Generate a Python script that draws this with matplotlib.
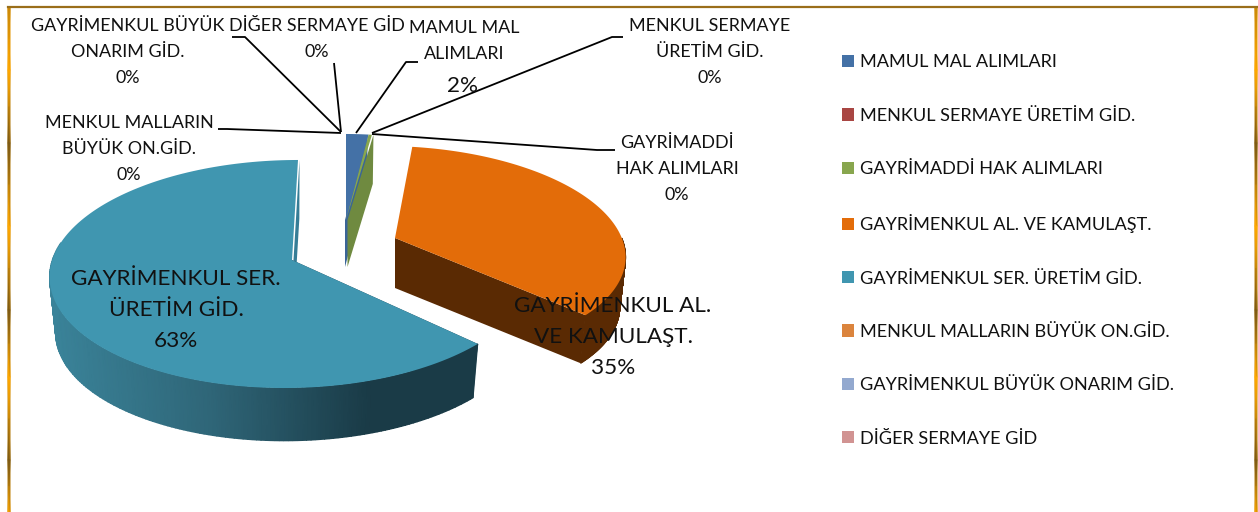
"""Exploded 3D-look pie of investment spending, drawn by hand in pixel space."""
import numpy as np
import matplotlib
matplotlib.use("Agg")
import matplotlib.pyplot as plt
from matplotlib.colors import LinearSegmentedColormap
from matplotlib.patches import Patch

plt.rcParams["font.family"] = ["Lato", "DejaVu Sans"]

CATEGORIES = ["MAMUL MAL ALIMLARI", "MENKUL SERMAYE ÜRETİM GİD.", "GAYRİMADDİ HAK ALIMLARI",
              "GAYRİMENKUL AL. VE KAMULAŞT.", "GAYRİMENKUL SER. ÜRETİM GİD.",
              "MENKUL MALLARIN BÜYÜK ON.GİD.", "GAYRİMENKUL BÜYÜK ONARIM GİD.", "DİĞER SERMAYE GİD"]
VALUES = [2.0, 0.0, 0.3, 34.7, 63.0, 0.0, 0.0, 0.0]
COLORS = ["#4471A6", "#A94643", "#88A64E", "#E36C09", "#4096B0", "#DB843D", "#93A9CF", "#D19392"]

W, H = 1258, 512
RX, RY, PERSP = 235.0, 112.3, 0.1228
SHRINK = 0.975

fig = plt.figure(figsize=(W / 100, H / 100), dpi=100)
ax = fig.add_axes([0, 0, 1, 1])
ax.set_xlim(0, W)
ax.set_ylim(H, 0)
ax.axis("off")

# cumulative angles, clockwise from twelve o'clock
edges = np.concatenate([[0.0], np.cumsum(VALUES)]) / sum(VALUES) * 2 * np.pi

# layout of each pulled-out piece: apex, x scale, y scale, shear, wall depth
SLIVER = dict(apex=(346.0, 220.0), sx=0.86, sy=0.86, shear=0.0, depth=47.0)
ORANGE = dict(apex=(395.0, 238.0), sx=0.965, sy=0.92, shear=0.13, depth=50.0)
TEAL = dict(apex=(292.0, 260.0), sx=1.02, sy=1.0, shear=-0.06, depth=56.0)


def rim(theta, p, low=False):
    u, v = np.sin(theta), np.cos(theta)
    w = 1 + PERSP * v
    k = SHRINK if low else 1.0
    dy = -k * p["sy"] * RY * v / w
    x = p["apex"][0] + k * p["sx"] * RX * u / w + p["shear"] * dy
    return x, p["apex"][1] + dy + (p["depth"] if low else 0.0)


def face(a, b, p, color, zorder):
    x, y = rim(np.linspace(a, b, 150), p)
    ax.fill(np.r_[p["apex"][0], x], np.r_[p["apex"][1], y], color=color, lw=0, zorder=zorder)


def radial_wall(theta, p, color, zorder, dx=0.0):
    x, y = rim(theta, p)
    xb, yb = rim(theta, p, low=True)
    ax.fill([p["apex"][0] + dx, x + dx, xb + dx, p["apex"][0] + dx],
            [p["apex"][1], y, yb, p["apex"][1] + p["depth"]], color=color, lw=0, zorder=zorder)


def outer_wall(a, b, p, cmap, zorder, n=150):
    t = np.linspace(a, b, n)
    xt, yt = rim(t, p)
    xb, yb = rim(t, p, low=True)
    ax.pcolormesh(np.vstack([xt, xb]), np.vstack([yt, yb]), np.vstack([xt, xt]), cmap=cmap,
                  vmin=50, vmax=370, shading="gouraud", zorder=zorder)


teal_cmap = LinearSegmentedColormap.from_list("teal_wall", ["#3A8399", "#2F6678", "#1A3B47"])
brown_cmap = LinearSegmentedColormap.from_list("brown_wall", ["#5A2A03", "#5A2A03"])

# blue and green sliver, pulled up to the back
radial_wall(edges[1], dict(SLIVER, apex=(345.0, 220.0)), "#3A6597", 2)
radial_wall(edges[3], dict(SLIVER, apex=(347.5, 220.0)), "#6F8A40", 3)
face(edges[0], edges[1], SLIVER, COLORS[0], 4)
face(edges[2], edges[3], SLIVER, COLORS[2], 4)

# orange slice
radial_wall(edges[4], ORANGE, "#5A2A03", 2)
outer_wall(np.pi / 2, edges[4], ORANGE, brown_cmap, 2)
face(edges[3], edges[4], ORANGE, COLORS[3], 4)

# teal slice
radial_wall(edges[5], TEAL, "#367D96", 2, dx=1.5)
radial_wall(edges[4], TEAL, "#1A3B47", 2)
outer_wall(edges[4], 1.55 * np.pi, TEAL, teal_cmap, 3)
face(edges[4], edges[5], TEAL, COLORS[4], 4)

# data labels
SMALL, BIG = 12.9, 16.2
SMALL_GAP, BIG_GAP = 1.75, 1.68
INK = "#111111"


def pct(i):
    return f"{round(VALUES[i])}%"


def small_label(x, y, s):
    ax.text(x, y, s, fontsize=SMALL, ha="center", va="center", linespacing=SMALL_GAP, color=INK, zorder=6)


def big_label(x, y, s):
    ax.text(x, y, s, fontsize=BIG, ha="center", va="center", linespacing=BIG_GAP, color=INK, zorder=6)


small_label(128, 52, "GAYRİMENKUL BÜYÜK\nONARIM GİD.\n" + pct(6))
small_label(317, 39, "DİĞER SERMAYE GİD\n" + pct(7))
small_label(464, 41, "MAMUL MAL\nALIMLARI")
big_label(463, 86, pct(0))
small_label(710, 52, "MENKUL SERMAYE\nÜRETİM GİD.\n" + pct(1))
small_label(129, 149, "MENKUL MALLARIN\nBÜYÜK ON.GİD.\n" + pct(5))
small_label(677, 169, "GAYRİMADDİ\nHAK ALIMLARI\n" + pct(2))
big_label(176, 310, "GAYRİMENKUL SER.\nÜRETİM GİD.\n" + pct(4))
big_label(613, 337, "GAYRİMENKUL AL.\nVE KAMULAŞT.\n" + pct(3))

# leader lines
LEADERS = [([232, 245, 341], [37, 37, 132]), ([334, 341], [63, 132]), ([418, 406, 356], [62, 62, 133]),
           ([623, 612, 372], [37, 37, 133]), ([218, 227, 341], [129, 129, 133]),
           ([615, 597, 372], [150, 150, 134])]
for lx, ly in LEADERS:
    ax.plot(lx, ly, color="black", lw=1.3, zorder=5, solid_capstyle="butt")

# legend
handles = [Patch(facecolor=c, edgecolor="none", label=n) for c, n in zip(COLORS, CATEGORIES)]
ax.legend(handles=handles, loc="upper left", bbox_to_anchor=(837 / W, 1 - 49 / H), frameon=False,
          fontsize=13.1, labelspacing=2.05, handlelength=0.66, handleheight=0.66, handletextpad=0.3,
          borderpad=0.3, borderaxespad=0, labelcolor=INK)

# gold frame, open at the bottom
FRAME_Y = [7, 70, 143, 226, 310, 377, 460, 512]
FRAME_V = [0.6, 1.0, 0.0, 1.0, 0.0, 1.0, 0.0, 0.9]
frame_cmap = LinearSegmentedColormap.from_list("frame", ["#7D5A14", "#FFA800"])
frame_v = np.array([FRAME_V, FRAME_V])
for x_left in (8, 1255):
    ax.pcolormesh(np.array([[x_left] * 8, [x_left + 2] * 8]), np.array([FRAME_Y, FRAME_Y]), frame_v,
                  cmap=frame_cmap, vmin=0, vmax=1, shading="gouraud", zorder=7)
ax.plot([8, 1257], [7, 7], color="#9A6E1A", lw=1.6, zorder=7)

fig.savefig("out.png", dpi=100)
